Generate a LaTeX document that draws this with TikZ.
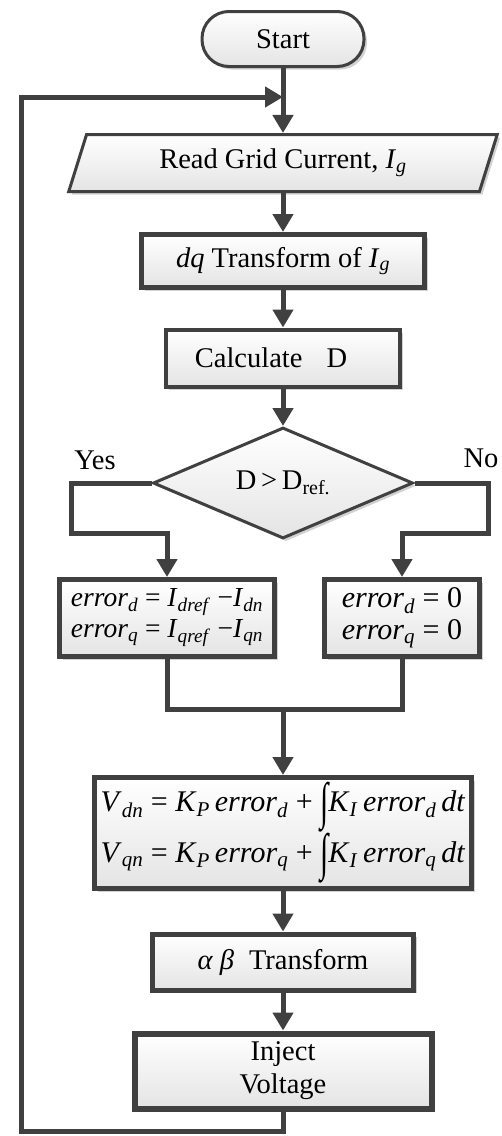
\documentclass[tikz,border=0pt]{standalone}
\usepackage{fontspec}
\setmainfont{Liberation Serif}
\usetikzlibrary{arrows.meta,shapes.geometric,shadows}
\definecolor{edge}{HTML}{404040}
\definecolor{fillb}{HTML}{E4E4E4}
\newcommand\sbi[1]{\textsubscript{\textit{#1}}}
\newcommand\intg{\raisebox{-0.25em}{\scalebox{1}[1.7]{∫}}}
\begin{document}
\begin{tikzpicture}[x=1pt,y=-1pt,
  font=\fontsize{28.5}{33}\selectfont,
  base/.style={draw=edge, top color=white, bottom color=fillb,
    drop shadow={shadow xshift=3pt,shadow yshift=-3pt,fill=black,opacity=0.18},
    align=center, inner sep=0pt},
  thickbox/.style={base, rectangle, line width=5pt},
  thinbox/.style={base, line width=3pt},
  arr/.style={draw=edge, line width=5pt, -{Triangle[width=20pt,length=18pt]}},
  ln/.style={draw=edge, line width=5pt},
  frm/.style={font=\fontsize{30}{32}\selectfont}]
\useasboundingbox (0,0) rectangle (502,1136);

\node[thinbox, rectangle, rounded corners=27pt, minimum width=162pt, minimum height=55pt] (start) at (283,39) {Start};
\node[thinbox, trapezium, trapezium left angle=68, trapezium right angle=112, trapezium stretches=true, minimum width=430pt, minimum height=57pt] (read) at (283,163) {Read Grid Current, \textit{I}\sbi{g}};
\node[thickbox, minimum width=283pt, minimum height=53pt] (dq) at (283,261) {\textit{dq} Transform of \textit{I}\sbi{g}};
\node[thickbox, line width=4pt, minimum width=234pt, minimum height=57pt] (calc) at (283,358) {Calculate\kern24pt D\kern24pt};
\node[thinbox, diamond, aspect=2.34, minimum width=260pt, minimum height=111pt] (dec) at (283,483) {D\,>\,D\textsubscript{ref.}};
\node (yes) at (95,460) {Yes};
\node (no) at (481,458) {No};
\node[thickbox, font=\fontsize{27.5}{31}\selectfont, minimum width=215pt, minimum height=77pt] (el) at (167,618)
  {\textit{error}\sbi{d} = \textit{I}\sbi{dref} −\textit{I}\sbi{dn}\\ \textit{error}\sbi{q} = \textit{I}\sbi{qref} −\textit{I}\sbi{qn}};
\node[thickbox, frm, minimum width=155pt, minimum height=77pt] (er) at (402,618)
  {\textit{error}\sbi{d} = 0\\ \textit{error}\sbi{q} = 0};
\node[thickbox, font=\fontsize{30}{33}\selectfont, minimum width=377pt, minimum height=111pt] (pi) at (283,833)
  {\textit{V}\sbi{dn} = \textit{K}\sbi{P}\,\textit{error}\sbi{d} + \intg\textit{K}\sbi{I}\,\textit{error}\sbi{d}\,\textit{dt}\\
   \textit{V}\sbi{qn} = \textit{K}\sbi{P}\,\textit{error}\sbi{q} + \intg\textit{K}\sbi{I}\,\textit{error}\sbi{q}\,\textit{dt}};
\node[thickbox, minimum width=261pt, minimum height=56pt] (ab) at (283,962) {\textit{α β}\; Transform};
\node[thickbox, line width=6pt, minimum width=297pt, minimum height=75pt] (inj) at (283,1071) {Inject\\Voltage};

\coordinate (ya) at (71,533);
\coordinate (nb) at (488,533);
\coordinate (mg) at (283,709);
\coordinate (lb) at (21,1131);
\coordinate (lt) at (21,97);
\coordinate (jn) at (283,97);

\draw[arr] (start) -- (read);
\draw[arr] (read) -- (dq);
\draw[arr] (dq) -- (calc);
\draw[arr] (calc) -- (dec);
\draw[arr] (dec.west) -| (ya) -| (el.north);
\draw[arr] (dec.east) -| (nb) -| (er.north);
\draw[ln] (el.south) |- (mg) -| (er.south);
\draw[arr] (mg) -- (pi.north);
\draw[arr] (pi) -- (ab);
\draw[arr] (ab) -- (inj);
\draw[arr] (inj.south) |- (lb) -- (lt) -- (jn);
\end{tikzpicture}
\end{document}
